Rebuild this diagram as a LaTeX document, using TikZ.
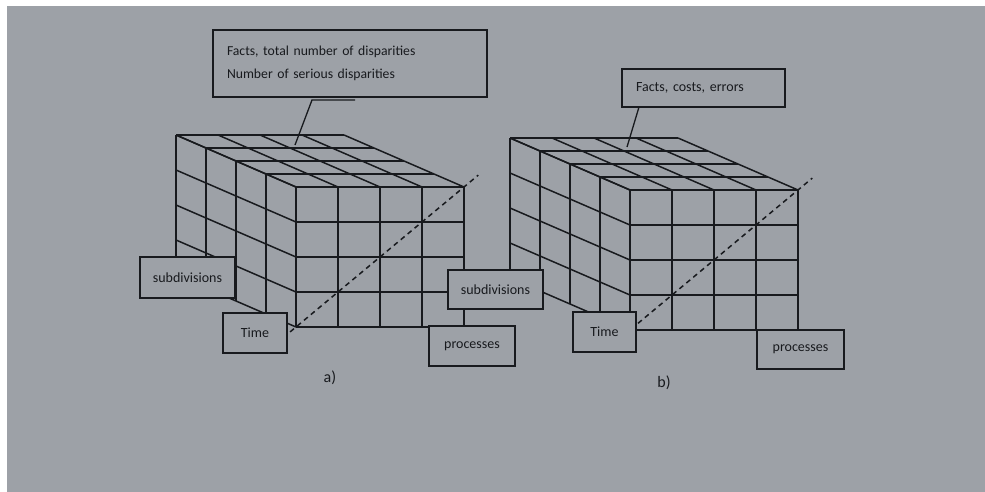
\documentclass[tikz,border=0pt]{standalone}
\usepackage{fontspec}
\setmainfont{Carlito}
\usetikzlibrary{calc}
\definecolor{paper}{RGB}{157,161,167}
\definecolor{ink}{RGB}{24,26,30}

\begin{document}
\begin{tikzpicture}
      [x=1pt,y=-1pt,
        gridline/.style={draw=ink,line width=1.5pt},
        diag/.style={draw=ink,line width=1.5pt,dash pattern=on 5pt off 4pt},
        lbl/.style={draw=ink,fill=paper,line width=1.4pt,inner sep=0pt,
          text=ink,font=\fontsize{14}{16}\selectfont},
        subcap/.style={text=ink,font=\fontsize{16}{18}\selectfont}]
      \useasboundingbox (0,0) rectangle (985,492);
      \fill[white] (0,0) rectangle (985,492);
      \fill[paper] (7,6) rectangle (985,492);

      % the two cubes: front face 4x4, four slices deep
      \foreach \c/\ox/\oy in {a/296/187,b/630/190}{
        \begin{scope}[shift={(\ox,\oy)}]
          \foreach \i in {0,...,4}{
            \draw[gridline] (\i*42,0) -- (\i*42,140);
            \draw[gridline] (0,\i*35) -- (168,\i*35);
            \draw[gridline] (\i*42,0) -- ++(-120,-52);
            \draw[gridline] (0,\i*35) -- ++(-120,-52);
            \draw[gridline] (-\i*30,-\i*13) -- ++(168,0);
            \draw[gridline] (-\i*30,-\i*13) -- ++(0,140);
          }
          \coordinate (\c-bl) at (0,140);
          \coordinate (\c-tr) at (168,0);
        \end{scope}
        \draw[diag] ($(\c-bl)!-0.035!(\c-tr)$) -- ($(\c-tr)!-0.085!(\c-bl)$);
      }

      \coordinate (a-top) at (295,145);
      \coordinate (a-knee) at (312,100);
      \coordinate (a-end) at (355,100);
      \coordinate (b-top) at (627,147);
      \coordinate (b-knee) at (639,107);
      \draw[gridline,line width=1.3pt] (a-top) -- (a-knee) -- (a-end);
      \draw[gridline,line width=1.3pt] (b-top) -- (b-knee);

      \node[lbl,minimum width=274pt,minimum height=67pt,text width=246pt,
        align=left,font=\fontsize{13.7}{23}\selectfont] (factsA) at (350,63.5)
        {Facts, total number of disparities\\Number of serious disparities};
      \node[lbl,minimum width=163pt,minimum height=38pt,text width=135pt,
        align=left] (factsB) at (703.5,88) {Facts, costs, errors};

      \node[lbl,minimum width=95pt,minimum height=41pt] (subA) at (187.5,277.5) {subdivisions};
      \node[lbl,minimum width=64pt,minimum height=40pt] (timeA) at (255,333) {Time};
      \node[lbl,minimum width=86pt,minimum height=40pt] (procA) at (472,346) {processes};
      \node[lbl,minimum width=95pt,minimum height=39pt] (subB) at (495.5,289.5) {subdivisions};
      \node[lbl,minimum width=63pt,minimum height=40pt] (timeB) at (604.5,332) {Time};
      \node[lbl,minimum width=87pt,minimum height=39pt] (procB) at (800.5,349.5) {processes};

      \node[subcap] (capA) at (330,378) {a)};
      \node[subcap] (capB) at (664,383) {b)};
    \end{tikzpicture}
\end{document}
